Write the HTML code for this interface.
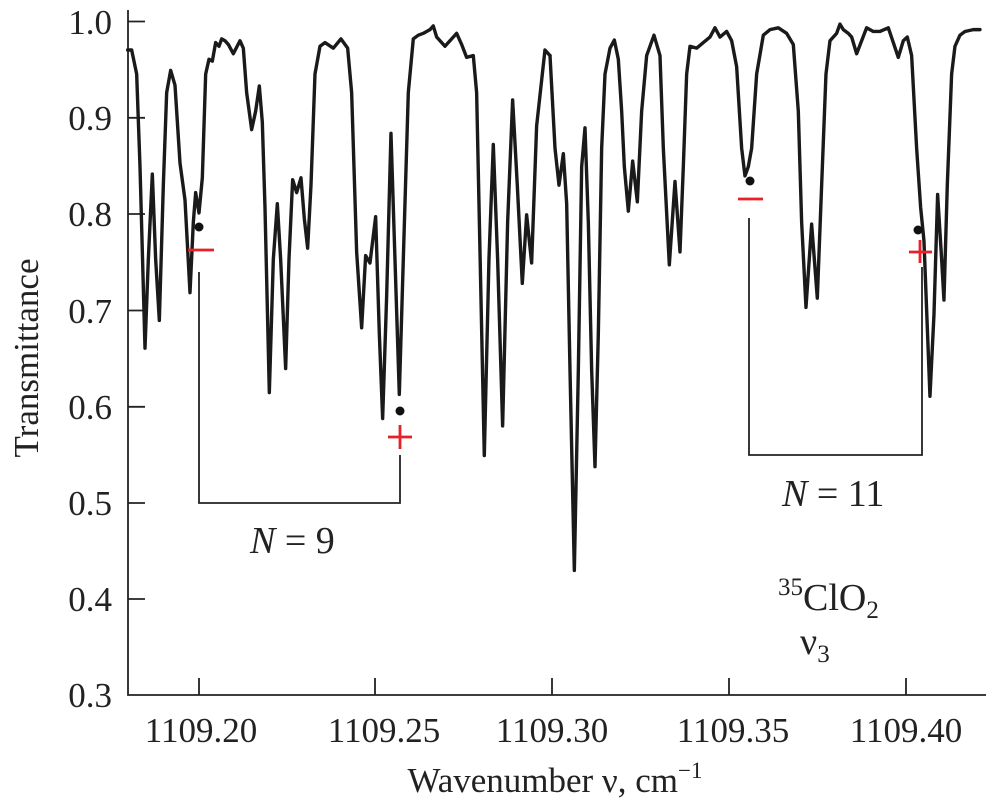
<!DOCTYPE html>
<html><head><meta charset="utf-8"><style>
html,body{margin:0;padding:0;background:#fff;}
svg{display:block;font-family:"Liberation Serif",serif;}
</style></head><body>
<svg width="986" height="810" viewBox="0 0 986 810" xmlns="http://www.w3.org/2000/svg">
<g stroke="#222" stroke-width="1.8" fill="none">
<polyline points="128,10 128,695 986,695"/>
<line x1="128" y1="21.5" x2="145" y2="21.5"/>
<line x1="128" y1="117.8" x2="145" y2="117.8"/>
<line x1="128" y1="214" x2="145" y2="214"/>
<line x1="128" y1="310.5" x2="145" y2="310.5"/>
<line x1="128" y1="406.8" x2="145" y2="406.8"/>
<line x1="128" y1="503" x2="145" y2="503"/>
<line x1="128" y1="599" x2="145" y2="599"/>
<line x1="199" y1="695" x2="199" y2="678"/>
<line x1="375" y1="695" x2="375" y2="678"/>
<line x1="552" y1="695" x2="552" y2="678"/>
<line x1="729" y1="695" x2="729" y2="678"/>
<line x1="906" y1="695" x2="906" y2="678"/>
</g>
<g font-size="35" fill="#222" text-anchor="end">
<text x="112" y="34">1.0</text><text x="112" y="130">0.9</text><text x="112" y="226">0.8</text>
<text x="112" y="323">0.7</text><text x="112" y="419">0.6</text><text x="112" y="515">0.5</text>
<text x="112" y="611">0.4</text><text x="112" y="707">0.3</text>
</g>
<g font-size="35" fill="#222" text-anchor="middle">
<text x="201" y="742">1109.20</text><text x="384" y="742">1109.25</text><text x="552" y="742">1109.30</text>
<text x="733" y="742">1109.35</text><text x="906" y="742">1109.40</text>
<text x="555" y="792">Wavenumber ν, cm<tspan font-size="23" dy="-14">−1</tspan></text>
<text transform="translate(38,358) rotate(-90)">Transmittance</text>
</g>
<g fill="none" stroke="#1a1a1a" stroke-width="3.4" stroke-linejoin="round" stroke-linecap="round">
<polyline vector-effect="non-scaling-stroke" transform="translate(125,0) scale(0.3333,0.3704)" points="8,135 20,135 35,200 45,450 60,940 70,700 82,470 92,700 103,865 115,500 125,250 137,190 150,230 165,440 180,540 195,790 205,600 212,520 222,575 232,480 242,200 252,160 262,165 272,115 282,125 290,105 300,110 310,120 325,145 345,110 355,130 365,250 380,350 392,300 403,232 412,330 420,560 433,1060 445,700 457,550 467,700 482,995 492,700 503,485 515,520 528,480 538,590 548,670 558,500 570,200 585,125 600,115 625,130 648,105 668,130 680,250 695,680 710,885 722,690 735,710 752,585 763,900 773,1130 785,800 798,360 810,700 823,1065 835,700 850,250 865,105 880,95 895,90 915,80 925,70 935,100 960,125 995,90 1010,120 1025,155 1045,150 1055,250 1078,1230 1092,700 1105,390 1118,700 1133,1150 1148,600 1163,270 1177,500 1192,765 1205,580 1220,710 1235,340 1260,135 1275,150"/>
<polyline vector-effect="non-scaling-stroke" transform="translate(550,0) scale(0.3333,0.3704)" points="0,150 15,400 27,500 40,415 50,550 60,1000 73,1540 85,1000 95,450 105,345 115,600 125,1000 135,1260 145,900 155,400 165,200 180,130 193,108 205,160 215,300 223,450 235,570 248,435 262,545 275,300 290,150 312,95 330,150 340,400 358,715 375,490 390,680 400,450 410,200 420,125 440,130 460,115 480,100 495,75 510,100 530,85 545,110 560,180 575,400 585,475 595,450 605,400 620,200 640,95 660,80 685,75 710,90 730,120 745,300 755,600 768,830 785,605 802,805 815,500 828,200 840,110 860,90 870,65 880,80 895,90 905,100 920,145 935,110 950,75 970,85 990,85 1015,75 1030,115 1045,155 1060,110 1072,100 1085,150 1100,400 1112,560 1122,650 1140,1070 1152,850 1163,525 1175,700 1182,810 1192,500 1205,200 1215,125 1230,95 1245,85 1270,80 1290,80"/>
</g>
<g stroke="#222" stroke-width="1.8" fill="none">
<polyline points="199,272 199,503 400,503 400,455"/>
<polyline points="749,218 749,455 922,455 922,267"/>
</g>
<g fill="#111">
<circle cx="199" cy="227" r="4.5"/><circle cx="400" cy="411" r="4.5"/>
<circle cx="750" cy="181" r="4.5"/><circle cx="918" cy="230" r="4.5"/>
</g>
<g stroke="#e8202a" stroke-width="2.8">
<line x1="188" y1="250" x2="214" y2="250"/>
<line x1="388" y1="437" x2="412" y2="437"/><line x1="400" y1="425" x2="400" y2="449"/>
<line x1="738" y1="199" x2="763" y2="199"/>
<line x1="909" y1="252" x2="932" y2="252"/><line x1="920" y1="240" x2="920" y2="263"/>
</g>
<g font-size="38" fill="#222">
<text x="250" y="553"><tspan font-style="italic">N</tspan> = 9</text>
<text x="782" y="506"><tspan font-style="italic">N</tspan> = 11</text>
<text x="778" y="610"><tspan font-size="25" dy="-15">35</tspan><tspan dy="15">ClO</tspan><tspan font-size="25" dy="8">2</tspan></text>
<text x="800" y="654">ν<tspan font-size="25" dy="8">3</tspan></text>
</g>
</svg>
</body></html>
